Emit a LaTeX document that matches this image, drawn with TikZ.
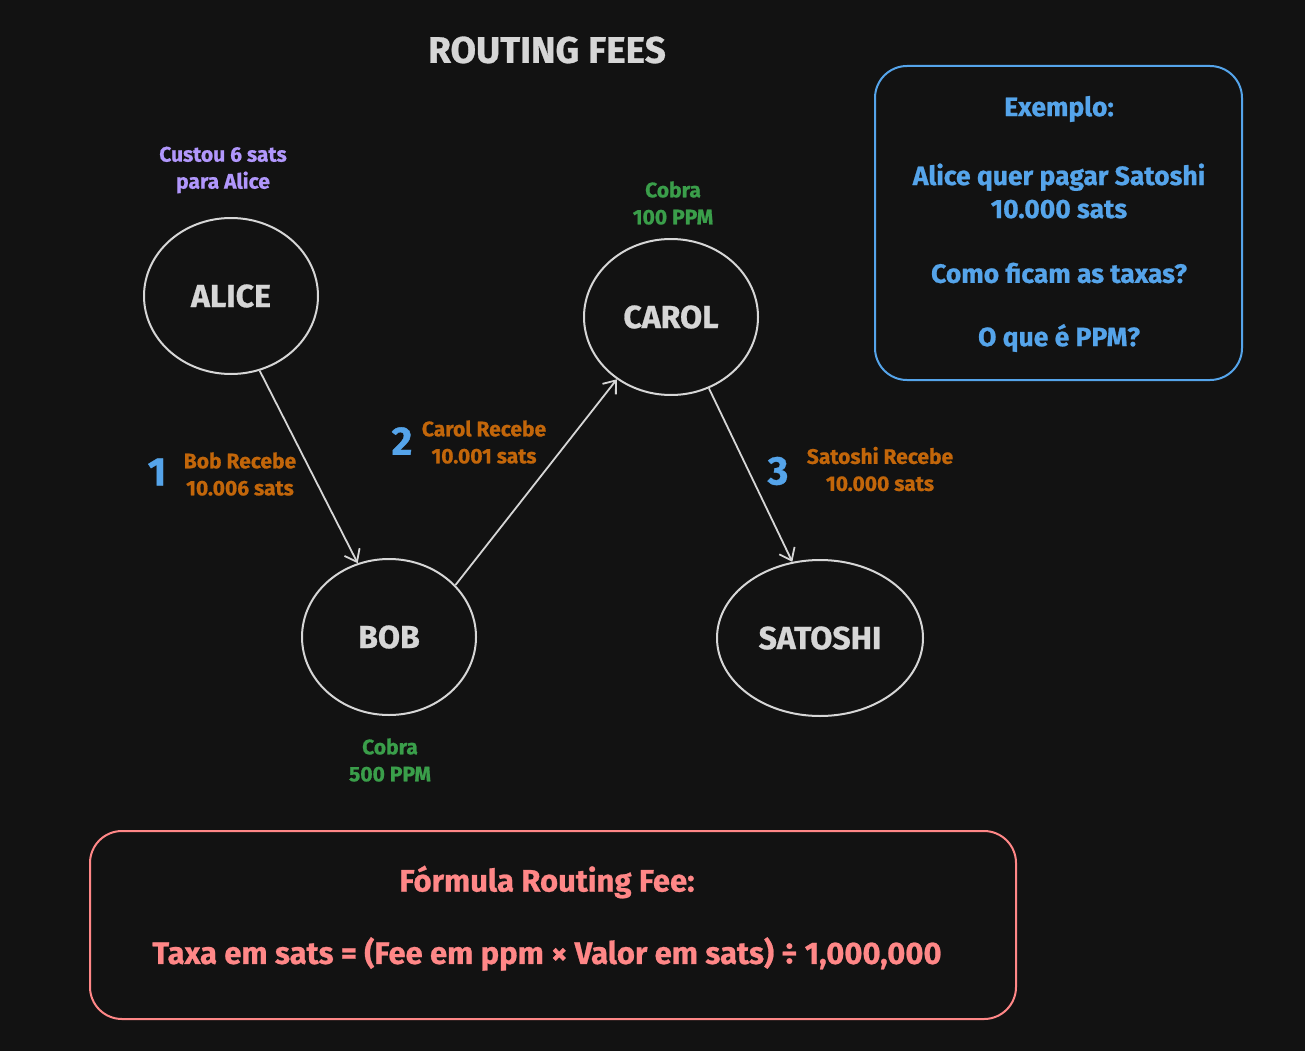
\documentclass[tikz,border=0pt]{standalone}
\usepackage{fontspec}
\setmainfont{Fira Sans}[BoldFeatures={FakeBold=0.8}]
\usetikzlibrary{shapes.geometric,arrows.meta}
\definecolor{bg}{HTML}{121212}
\definecolor{ink}{HTML}{D6D6D6}
\definecolor{lilac}{HTML}{B197FC}
\definecolor{amber}{HTML}{C2660A}
\definecolor{leaf}{HTML}{3A9E4A}
\definecolor{sky}{HTML}{55A4EA}
\definecolor{rose}{HTML}{FF8787}
\tikzset{
  person/.style={ellipse, draw=ink, line width=2pt, text=ink, font=\bfseries\fontsize{32}{34}\selectfont, inner sep=0pt},
  lbl/.style={align=center, font=\bfseries\fontsize{21}{27}\selectfont, inner sep=0pt},
  num/.style={text=sky, font=\bfseries\fontsize{40}{42}\selectfont, inner sep=0pt},
  arr/.style={draw=ink, line width=1.8pt, -{Straight Barb[length=11pt,width=17pt,line width=1.8pt]}},
  panel/.style={rounded corners=32pt, line width=2pt},
  boxtxt/.style={align=center, font=\bfseries\fontsize{26.5}{33}\selectfont, inner sep=0pt},
  formtxt/.style={align=center, font=\bfseries\fontsize{31}{33}\selectfont, inner sep=0pt}
}
\begin{document}
\begin{tikzpicture}[x=1pt,y=-1pt]
\fill[bg] (0,0) rectangle (1305,1051);
\useasboundingbox (0,0) rectangle (1305,1051);

\node[text=ink, font=\bfseries\fontsize{37}{40}\selectfont] (title) at (547,50) {ROUTING FEES};

\node[person, minimum width=174pt, minimum height=156pt] (alice) at (231,296) {ALICE};
\node[person, minimum width=174pt, minimum height=156pt] (carol) at (671,317) {CAROL};
\node[person, minimum width=174pt, minimum height=156pt] (bob) at (389,637) {BOB};
\node[person, minimum width=206pt, minimum height=156pt] (satoshi) at (820,638) {SATOSHI};

\node[lbl, text=lilac] (cost) at (223,170) {Custou 6 sats\\para Alice};
\node[lbl, text=leaf] (carolfee) at (673,203) {Cobra\\100 PPM};
\node[lbl, text=leaf] (bobfee) at (390,760) {Cobra\\500 PPM};

\draw[arr] (alice.291) -- (bob.113);
\draw[arr] (bob.38) -- (carol.229);
\draw[arr] (carol.298) -- (satoshi.110);

\node[num] (n1) at (157,472) {1};
\node[lbl, text=amber] (r1) at (240,474) {Bob Recebe\\10.006 sats};
\node[num] (n2) at (402,441) {2};
\node[lbl, text=amber] (r2) at (484,442) {Carol Recebe\\10.001 sats};
\node[num] (n3) at (778,471) {3};
\node[lbl, text=amber] (r3) at (880,469) {Satoshi Recebe\\10.000 sats};

\draw[panel, draw=sky] (875,66) rectangle (1242,380);
\node[boxtxt, text=sky] (ex) at (1059,109) {Exemplo:};
\node[boxtxt, text=sky] (ex2) at (1059,191) {Alice quer pagar Satoshi\\10.000 sats};
\node[boxtxt, text=sky] (ex3) at (1059,273) {Como ficam as taxas?};
\node[boxtxt, text=sky] (ex4) at (1059,338) {O que é PPM?};

\draw[panel, draw=rose] (90,831) rectangle (1016,1019);
\node[formtxt, text=rose] (f1) at (547,882) {Fórmula Routing Fee:};
\node[formtxt, text=rose] (f2) at (547,954) {Taxa em sats = (Fee em ppm × Valor em sats) ÷ 1,000,000};
\end{tikzpicture}
\end{document}
